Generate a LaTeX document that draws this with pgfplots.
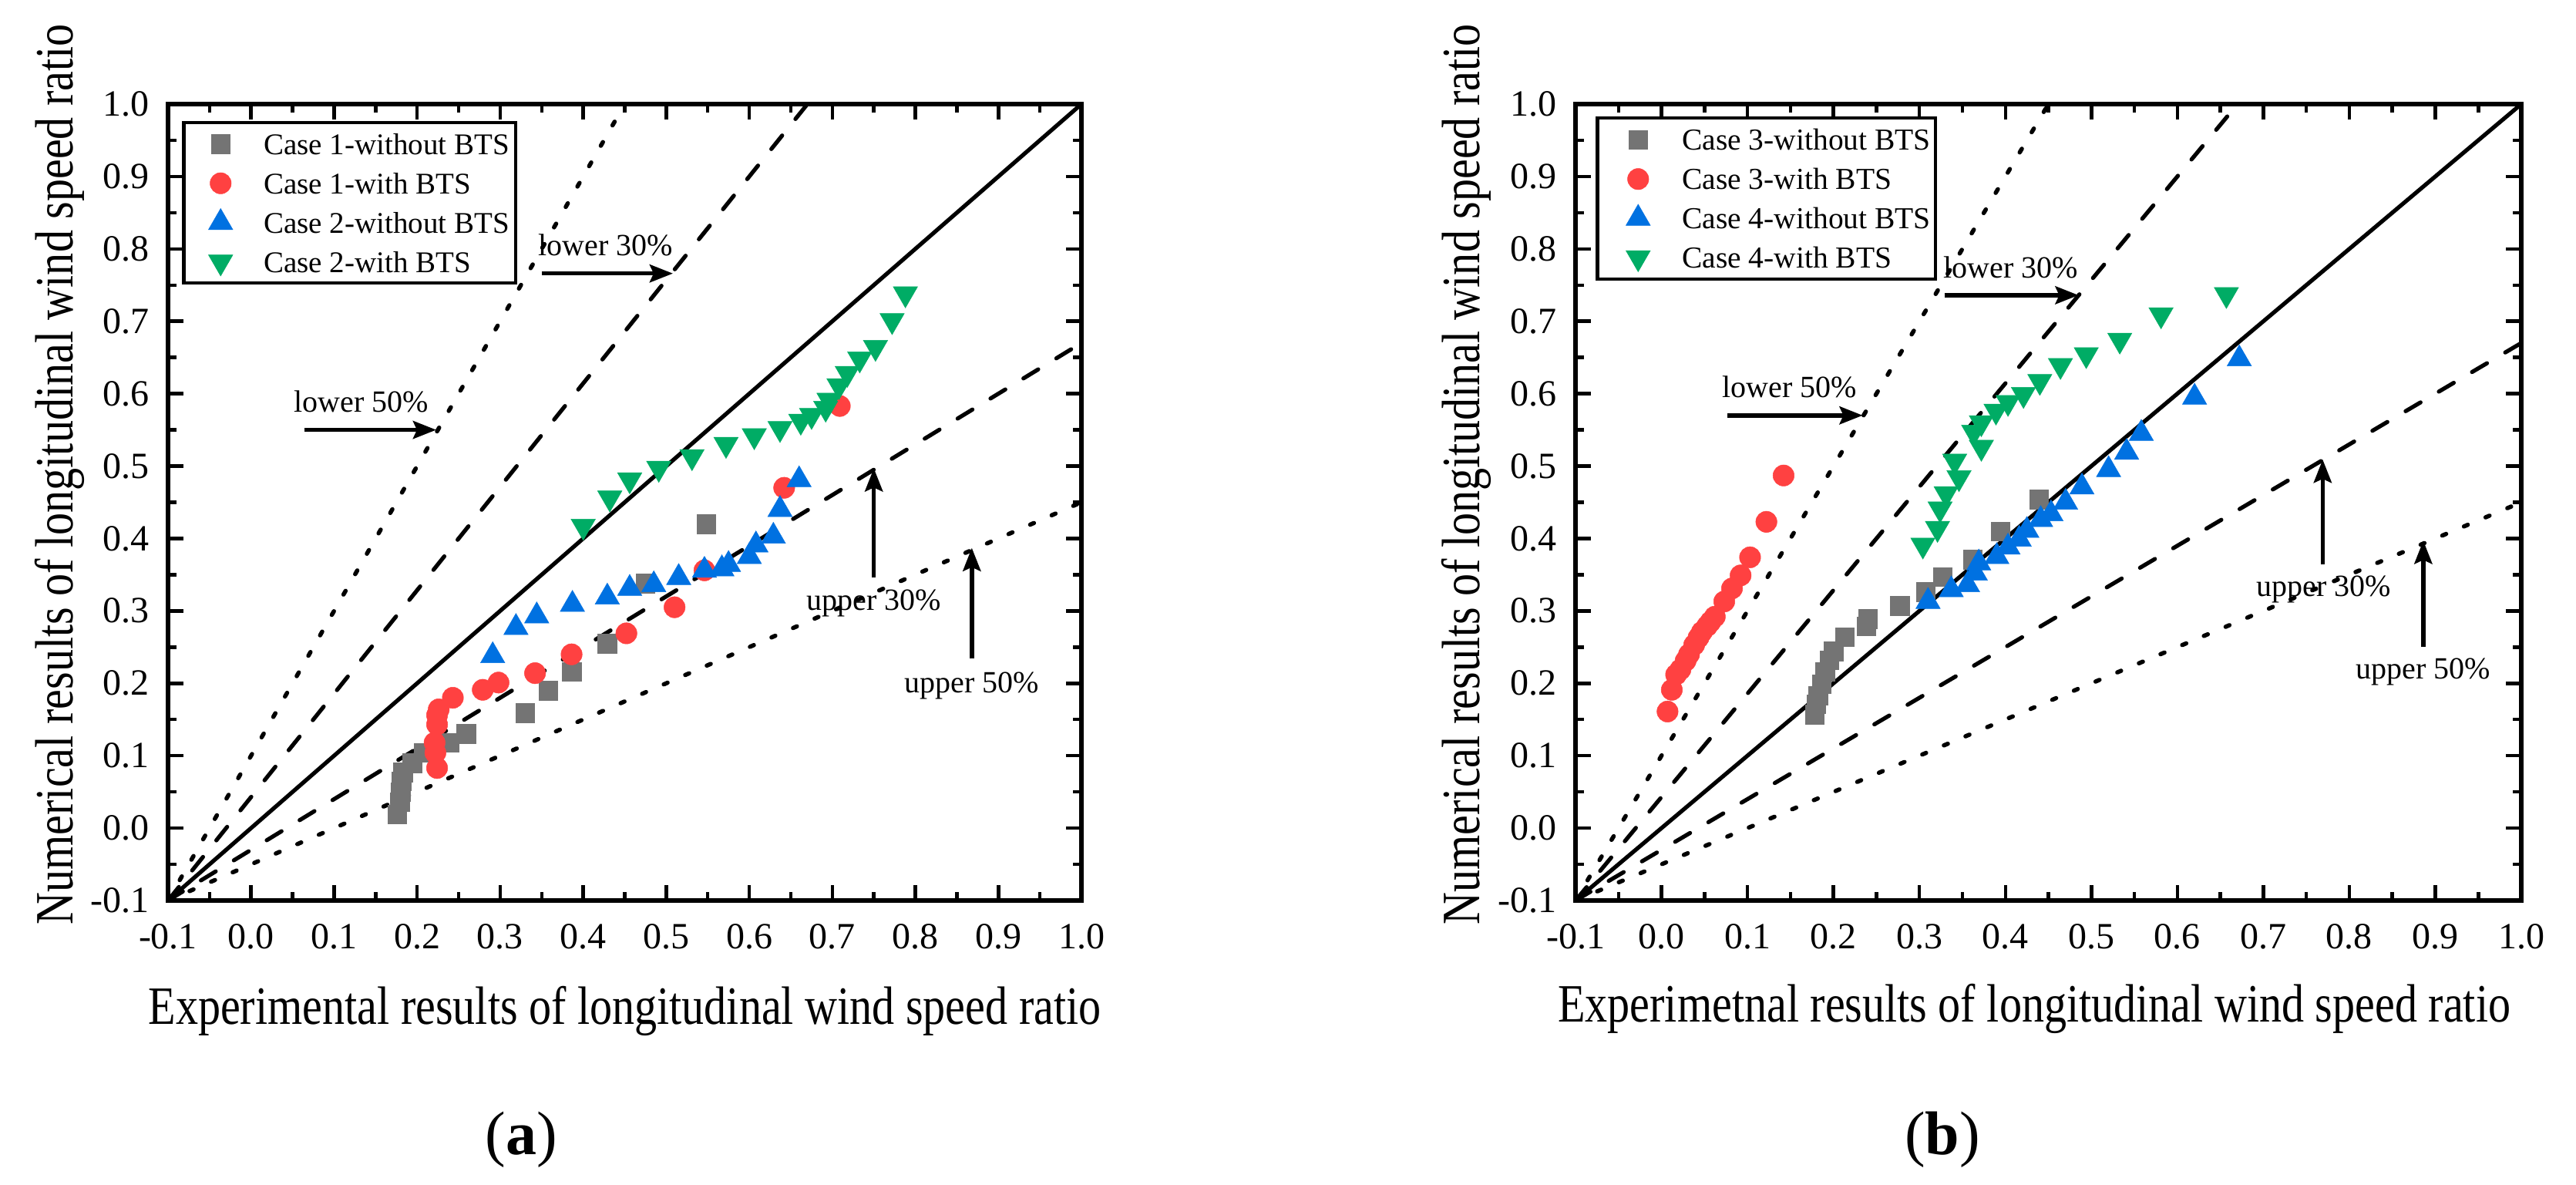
\documentclass[border=0pt]{standalone}
\usepackage{pgfplots}
\pgfplotsset{compat=1.18}
\usepackage{fontspec}
\setmainfont{Liberation Serif}
\usetikzlibrary{arrows.meta}

\definecolor{cgray}{RGB}{116,116,116}
\definecolor{cred}{RGB}{255,65,65}
\definecolor{cblue}{RGB}{0,113,225}
\definecolor{cgreen}{RGB}{0,172,101}

\tikzset{
  annot/.style={font=\fontsize{8}{9}\selectfont, anchor=base, inner sep=0pt},
  arr/.style={-{Stealth[length=6pt,width=4.6pt,inset=1pt]}, line width=1.1pt},
}

\pgfplotsset{
  myaxis/.style={
    scale only axis,
    height=206.6pt,
    xmin=-0.1, xmax=1.0, ymin=-0.1, ymax=1.0,
    xtick={-0.1,0,0.1,0.2,0.3,0.4,0.5,0.6,0.7,0.8,0.9,1.0},
    ytick={-0.1,0,0.1,0.2,0.3,0.4,0.5,0.6,0.7,0.8,0.9,1.0},
    minor x tick num=1, minor y tick num=1,
    tick align=inside, tick pos=both,
    major tick length=4pt, minor tick length=2.2pt,
    every tick/.append style={line width=0.9pt, black},
    axis line style={line width=1.1pt},
    /pgf/number format/.cd, fixed, fixed zerofill, precision=1, assume math mode=true,
    /pgfplots/.cd,
    xticklabel style={font=\fontsize{9.6}{11}\selectfont, anchor=base, yshift=-12.6pt, inner sep=0pt},
    yticklabel style={font=\fontsize{9.6}{11}\selectfont, anchor=east, xshift=-4.7pt, inner sep=0pt},
    label style={font=\fontsize{14}{16}\selectfont},
    legend cell align=left,
  },
  refline/.style={black, line width=1.05pt, forget plot},
  dashline/.style={refline, dash pattern=on 4.5pt off 5.5pt, line cap=round},
  dotline/.style={refline, line width=1.1pt, dash pattern=on 1.1pt off 5.0pt, line cap=round},
  sgray/.style={only marks, mark=square*, mark size=2.45pt, color=cgray, mark options={line width=0.1pt}},
  sred/.style={only marks, mark=*, mark size=2.75pt, color=cred, mark options={line width=0.1pt}},
  sblue/.style={only marks, mark=triangle*, mark size=3.65pt, color=cblue, mark options={line width=0.1pt}},
  sgreen/.style={only marks, mark=triangle*, mark size=3.65pt, color=cgreen, mark options={line width=0.1pt, rotate=180}},
}

\begin{document}
\begin{tikzpicture}
\path[use as bounding box] (0,0) rectangle (668.4pt,307.4pt);

% ---------------- (a) ----------------
\begin{axis}[myaxis,
  at={(43.6pt,73.8pt)}, anchor=south west, width=237pt,
  xlabel={\scalebox{0.83}[1]{Experimental results of longitudinal wind speed ratio}},
  ylabel={\scalebox{0.83}[1]{Numerical results of longitudinal wind speed ratio}},
  xlabel style={at={(axis description cs:0.5,-0.155)}, anchor=base},
  ylabel style={at={(axis description cs:-0.1038,0.535)}, anchor=base},
  legend image code/.code={\path[draw=none,fill=none] (0pt,-5.1pt) rectangle (19.2pt,5.1pt); \draw[#1] plot coordinates {(8pt,0pt)};},
  legend style={at={(axis description cs:0.0152,0.9787)}, anchor=north west, draw=black, line width=0.9pt,
    inner xsep=1.6pt, inner ysep=0.4pt, font=\fontsize{7.8}{9}\selectfont, row sep=0pt, column sep=0pt,
    nodes={inner sep=0pt, text depth=0pt}, cells={anchor=west}},
]
\addplot[sgray] coordinates {(0.176,0.019) (0.179,0.036) (0.180,0.050) (0.181,0.065) (0.183,0.077) (0.194,0.090) (0.208,0.104) (0.239,0.118) (0.259,0.130) (0.330,0.159) (0.358,0.190) (0.386,0.216) (0.429,0.255) (0.475,0.338) (0.548,0.420)};
\addlegendentry{Case 1-without BTS}
\addplot[sred] coordinates {(0.224,0.083) (0.222,0.104) (0.221,0.118) (0.224,0.143) (0.224,0.156) (0.226,0.164) (0.243,0.180) (0.279,0.191) (0.298,0.201) (0.342,0.214) (0.386,0.240) (0.452,0.269) (0.510,0.305) (0.546,0.356) (0.642,0.470) (0.709,0.583)};
\addlegendentry{Case 1-with BTS}
\addplot[sblue] coordinates {(0.291,0.238) (0.319,0.277) (0.344,0.293) (0.387,0.309) (0.429,0.319) (0.456,0.331) (0.485,0.336) (0.515,0.346) (0.546,0.356) (0.567,0.358) (0.575,0.364) (0.600,0.375) (0.608,0.391) (0.629,0.403) (0.637,0.440) (0.660,0.481)};
\addlegendentry{Case 2-without BTS}
\addplot[sgreen] coordinates {(0.400,0.417) (0.432,0.456) (0.456,0.481) (0.491,0.497) (0.531,0.513) (0.572,0.530) (0.606,0.542) (0.637,0.552) (0.662,0.562) (0.675,0.570) (0.692,0.580) (0.696,0.591) (0.708,0.611) (0.718,0.628) (0.733,0.648) (0.752,0.664) (0.772,0.701) (0.788,0.738)};
\addlegendentry{Case 2-with BTS}
\addplot[refline] coordinates {(-0.1,-0.1) (1.0,1.0)};
\addplot[dashline] coordinates {(-0.1,-0.1) (0.67,1.0)};
\addplot[dashline] coordinates {(-0.1,-0.1) (1.0,0.67)};
\addplot[dotline] coordinates {(-0.1,-0.1) (0.45,1.0)};
\addplot[dotline] coordinates {(-0.1,-0.1) (1.0,0.45)};
\node[annot] at (axis cs:0.427,0.791) {lower 30\%};
\draw[arr] (axis cs:0.35,0.766) -- (axis cs:0.508,0.766);
\node[annot] at (axis cs:0.133,0.575) {lower 50\%};
\draw[arr] (axis cs:0.064,0.55) -- (axis cs:0.223,0.55);
\node[annot] at (axis cs:0.75,0.301) {upper 30\%};
\draw[arr] (axis cs:0.75,0.346) -- (axis cs:0.75,0.497);
\node[annot] at (axis cs:0.868,0.187) {upper 50\%};
\draw[arr] (axis cs:0.868,0.234) -- (axis cs:0.868,0.387);
\end{axis}

% ---------------- (b) ----------------
\begin{axis}[myaxis,
  at={(408.8pt,73.8pt)}, anchor=south west, width=245.4pt,
  xlabel={\scalebox{0.83}[1]{Experimetnal results of longitudinal wind speed ratio}},
  ylabel={\scalebox{0.83}[1]{Numerical results of longitudinal wind speed ratio}},
  xlabel style={at={(axis description cs:0.485,-0.152)}, anchor=base},
  ylabel style={at={(axis description cs:-0.1019,0.535)}, anchor=base},
  legend image code/.code={\path[draw=none,fill=none] (0pt,-5.1pt) rectangle (20.8pt,5.1pt); \draw[#1] plot coordinates {(9.4pt,0pt)};},
  legend style={at={(axis description cs:0.0212,0.9845)}, anchor=north west, draw=black, line width=0.9pt,
    inner xsep=1.2pt, inner ysep=0.5pt, font=\fontsize{7.9}{9}\selectfont, row sep=0pt, column sep=0pt,
    nodes={inner sep=0pt, text depth=0pt}, cells={anchor=west}},
]
\addplot[sgray] coordinates {(0.178,0.157) (0.180,0.171) (0.182,0.183) (0.186,0.199) (0.190,0.216) (0.195,0.232) (0.200,0.244) (0.213,0.264) (0.238,0.279) (0.240,0.289) (0.277,0.307) (0.307,0.326) (0.327,0.347) (0.362,0.371) (0.394,0.410) (0.439,0.454)};
\addlegendentry{Case 3-without BTS}
\addplot[sred] coordinates {(0.007,0.161) (0.012,0.191) (0.017,0.212) (0.022,0.219) (0.028,0.231) (0.032,0.240) (0.038,0.253) (0.043,0.263) (0.047,0.271) (0.053,0.279) (0.057,0.285) (0.062,0.292) (0.073,0.313) (0.082,0.331) (0.092,0.349) (0.103,0.374) (0.122,0.423) (0.142,0.487)};
\addlegendentry{Case 3-with BTS}
\addplot[sblue] coordinates {(0.310,0.313) (0.337,0.329) (0.356,0.336) (0.365,0.352) (0.369,0.366) (0.390,0.375) (0.403,0.388) (0.416,0.399) (0.425,0.411) (0.441,0.426) (0.453,0.434) (0.470,0.450) (0.489,0.471) (0.520,0.495) (0.541,0.519) (0.558,0.545) (0.620,0.595) (0.672,0.648)};
\addlegendentry{Case 4-without BTS}
\addplot[sgreen] coordinates {(0.304,0.391) (0.321,0.414) (0.324,0.441) (0.331,0.462) (0.346,0.484) (0.341,0.507) (0.372,0.526) (0.363,0.547) (0.372,0.560) (0.389,0.576) (0.403,0.588) (0.421,0.599) (0.440,0.617) (0.464,0.639) (0.494,0.654) (0.533,0.674) (0.581,0.709) (0.657,0.737)};
\addlegendentry{Case 4-with BTS}
\addplot[refline] coordinates {(-0.1,-0.1) (1.0,1.0)};
\addplot[dashline] coordinates {(-0.1,-0.1) (0.67,1.0)};
\addplot[dashline] coordinates {(-0.1,-0.1) (1.0,0.67)};
\addplot[dotline] coordinates {(-0.1,-0.1) (0.45,1.0)};
\addplot[dotline] coordinates {(-0.1,-0.1) (1.0,0.45)};
\node[annot] at (axis cs:0.406,0.760) {lower 30\%};
\draw[arr] (axis cs:0.329,0.736) -- (axis cs:0.485,0.736);
\node[annot] at (axis cs:0.149,0.595) {lower 50\%};
\draw[arr] (axis cs:0.077,0.570) -- (axis cs:0.234,0.570);
\node[annot] at (axis cs:0.770,0.320) {upper 30\%};
\draw[arr] (axis cs:0.769,0.364) -- (axis cs:0.769,0.509);
\node[annot] at (axis cs:0.886,0.206) {upper 50\%};
\draw[arr] (axis cs:0.886,0.250) -- (axis cs:0.886,0.397);
\end{axis}

\node[font=\fontsize{16}{18}\selectfont, inner sep=0pt] at (135.2pt,11.8pt) {(\textbf{a})};
\node[font=\fontsize{16}{18}\selectfont, inner sep=0pt] at (504pt,11.8pt) {(\textbf{b})};
\end{tikzpicture}
\end{document}
